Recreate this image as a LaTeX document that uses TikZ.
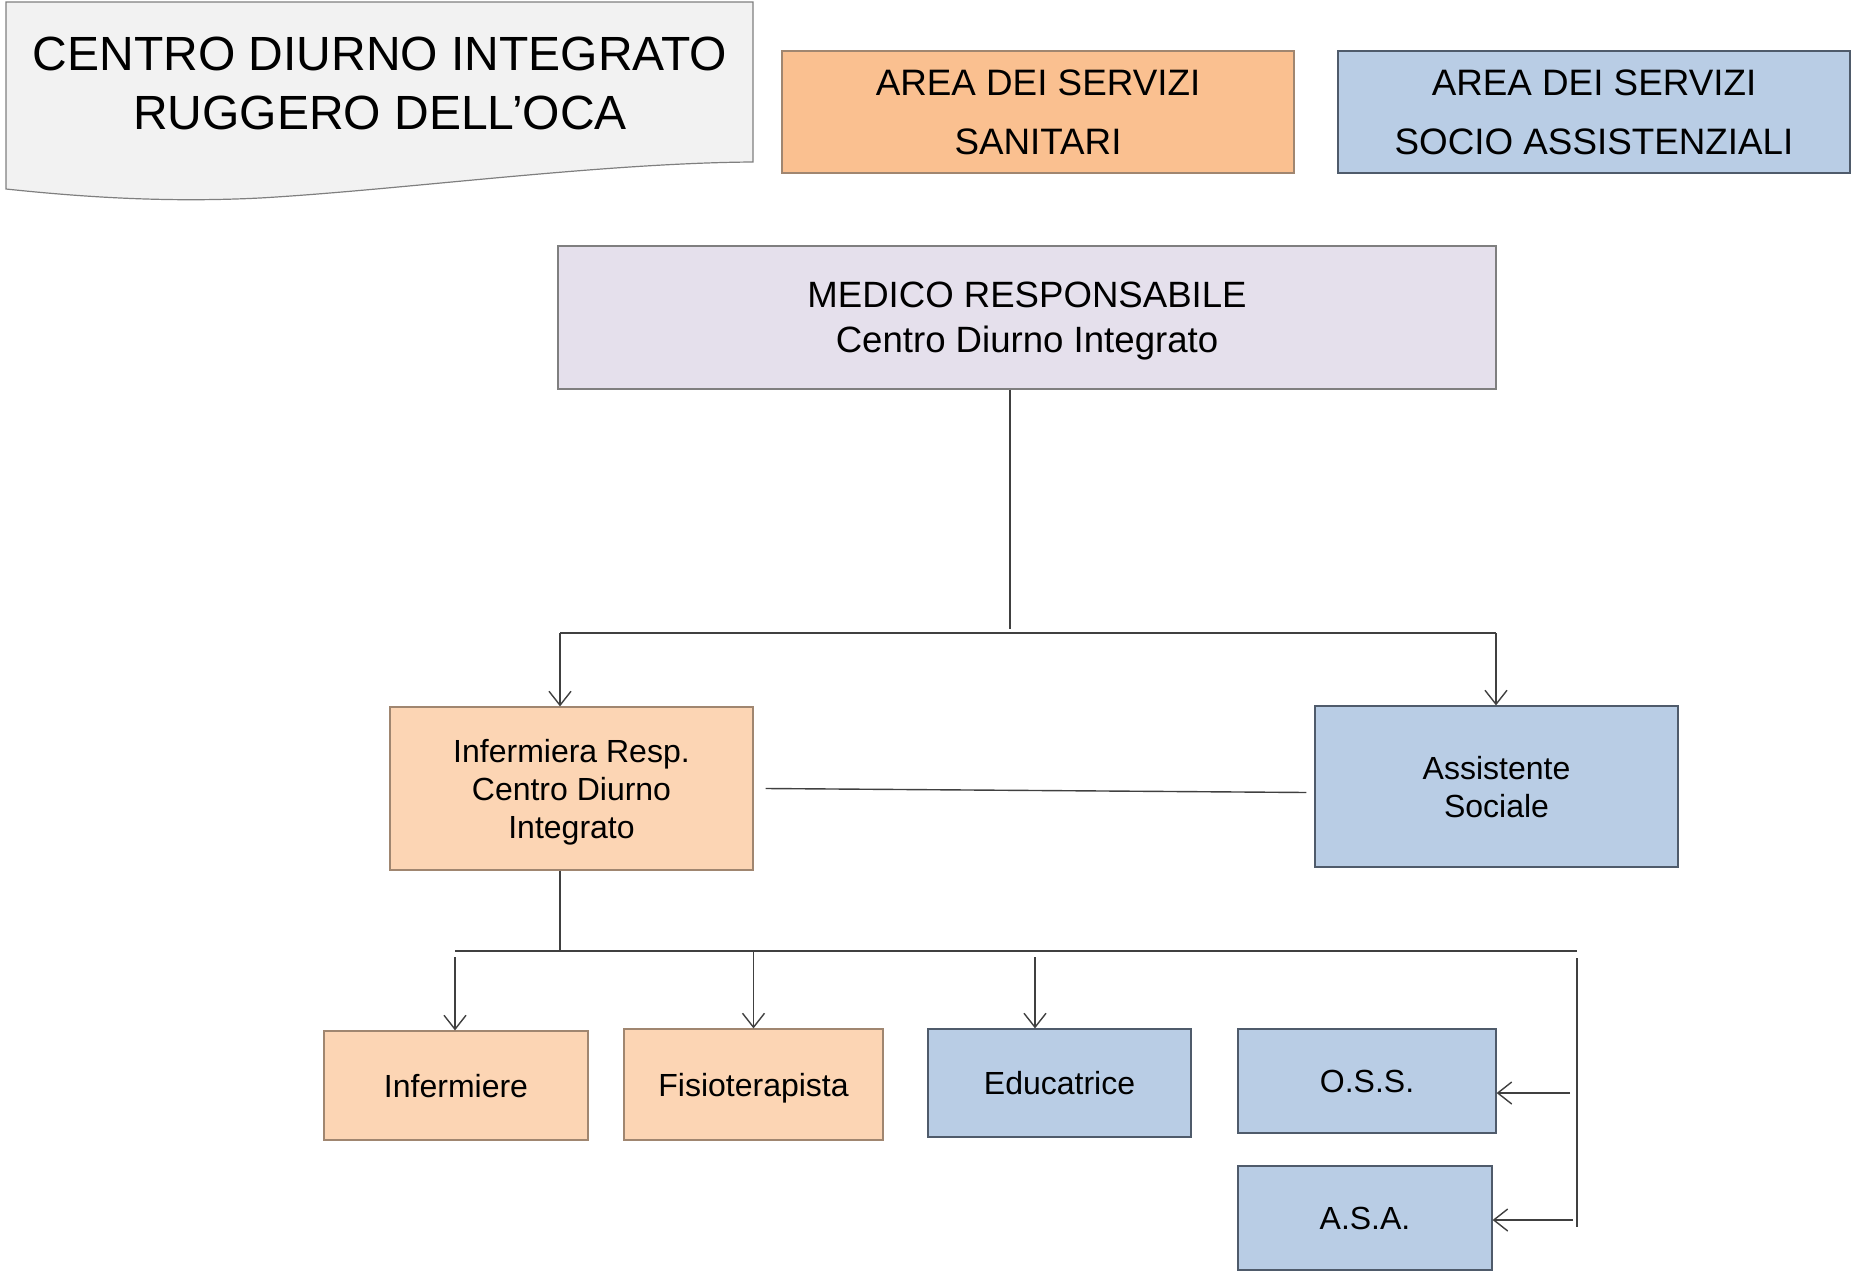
\documentclass[tikz,border=0pt]{standalone}
\usepackage{fontspec}
\setmainfont{Liberation Sans}
\usetikzlibrary{arrows.meta}

\definecolor{docgray}{HTML}{F2F2F2}
\definecolor{sanorange}{HTML}{FAC090}
\definecolor{lightorange}{HTML}{FCD5B4}
\definecolor{socblue}{HTML}{B9CDE5}
\definecolor{medlilac}{HTML}{E5E0EC}
\definecolor{edgegray}{HTML}{7F7F7F}
\definecolor{edgebrown}{HTML}{A08670}
\definecolor{edgeblue}{HTML}{4F5B6B}

\begin{document}
\begin{tikzpicture}[x=0.5pt, y=-0.5pt,
    box/.style={rectangle, draw=edgegray, line width=0.6pt, align=center, inner sep=0pt, text depth=0pt},
    orangebox/.style={box, fill=lightorange, draw=edgebrown},
    bluebox/.style={box, fill=socblue, draw=edgeblue},
    link/.style={draw=black!75, line width=0.7pt},
    arr/.style={link, -{Straight Barb[length=7pt,width=11pt]}},
    bigtxt/.style={font=\fontsize{18.4}{29.6}\selectfont},
    smalltxt/.style={font=\fontsize{16}{19}\selectfont}]

    %---- page frame (reference size in px)
    \useasboundingbox (0,0) rectangle (1854,1274);

    %---- title sheet
    \draw[draw=edgegray, fill=docgray, line width=0.6pt]
      (6,2) -- (753,2) -- (753,162)
      .. controls (600,163) and (400,190) .. (260,198)
      .. controls (180,202) and (100,199) .. (6,189) -- cycle;
    \node[font=\fontsize{24}{29.5}\selectfont, align=center] (title) at (380,83)
      {CENTRO DIURNO INTEGRATO\\RUGGERO DELL’OCA};

    %---- legend
    \node[box, fill=sanorange, draw=edgebrown, minimum width=256pt, minimum height=61pt, bigtxt]
      (sanitari) at (1038,112) {AREA DEI SERVIZI\\SANITARI};
    \node[bluebox, minimum width=256pt, minimum height=61pt, bigtxt]
      (socio) at (1594,112) {AREA DEI SERVIZI\\SOCIO ASSISTENZIALI};

    %---- head
    \node[box, fill=medlilac, minimum width=469pt, minimum height=71.5pt,
          font=\fontsize{18.3}{22.5}\selectfont]
      (medico) at (1027,317.5) {MEDICO RESPONSABILE\\Centro Diurno Integrato};

    %---- second level
    \node[orangebox, minimum width=181.5pt, minimum height=81.5pt, smalltxt]
      (infresp) at (571.5,788.5) {Infermiera Resp.\\Centro Diurno\\Integrato};
    \node[bluebox, minimum width=181.5pt, minimum height=80.5pt, smalltxt]
      (assist) at (1496.5,786.5) {Assistente\\Sociale};

    %---- staff
    \node[orangebox, minimum width=132pt, minimum height=54.5pt, smalltxt]
      (infermiere) at (456,1085.5) {Infermiere};
    \node[orangebox, minimum width=129.5pt, minimum height=55.5pt, smalltxt]
      (fisio) at (753.5,1084.5) {Fisioterapista};
    \node[bluebox, minimum width=131.5pt, minimum height=54pt, smalltxt]
      (educ) at (1059.5,1083) {Educatrice};
    \node[bluebox, minimum width=129pt, minimum height=52pt, smalltxt]
      (oss) at (1367,1081) {O.S.S.};
    \node[bluebox, minimum width=127pt, minimum height=52pt, smalltxt]
      (asa) at (1365,1218) {A.S.A.};

    %---- branch under the head
    \coordinate (hubA)   at (1010,633);
    \coordinate (leftA)  at (560,633);
    \coordinate (rightA) at (1496,633);
    \draw[link] (hubA |- medico.south) -- ([yshift=2pt]hubA);
    \draw[link] (leftA) -- (rightA);
    \draw[arr] (leftA) -- (leftA |- infresp.north);
    \draw[arr] (rightA) -- (rightA |- assist.north);
    \draw[link] ([xshift=6pt]infresp.east) -- ([xshift=-4pt,yshift=-3pt]assist.west);

    %---- branch under the nurse in charge
    \coordinate (hubB)   at (560,951);
    \coordinate (leftB)  at (455,951);
    \coordinate (rightB) at (1577,951);
    \coordinate (educB)  at (1035,951);
    \draw[link] (hubB |- infresp.south) -- (hubB);
    \draw[link] (leftB) -- (rightB);
    \draw[arr] ([yshift=-3pt]leftB) -- (leftB |- infermiere.north);
    \draw[arr] (fisio.north |- leftB) -- (fisio.north);
    \draw[arr] ([yshift=-3pt]educB) -- (educB |- educ.north);

    %---- side rail to O.S.S. and A.S.A.
    \coordinate (topC) at (1577,958);
    \coordinate (botC) at (1577,1227);
    \coordinate (ossC) at (1570,1093);
    \coordinate (asaC) at (1573,1220);
    \draw[link] (topC) -- (botC);
    \draw[arr] (ossC) -- (ossC -| oss.east);
    \draw[arr] (asaC) -- (asaC -| asa.east);

\end{tikzpicture}
\end{document}
